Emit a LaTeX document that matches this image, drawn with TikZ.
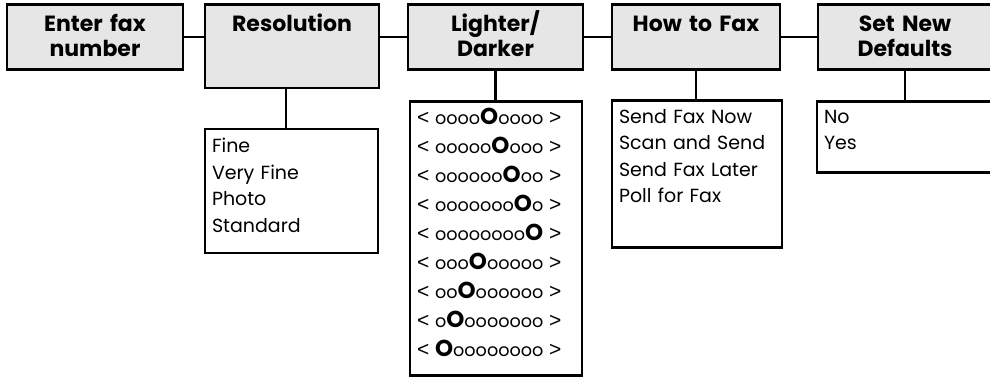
\documentclass[tikz,border=0pt]{standalone}
\usepackage{fontspec}
\setmainfont{Poppins}
\newfontfamily\signfont{Liberation Sans}
\newcommand{\lt}{{\signfont\fontsize{10.5}{10.5}\selectfont<}}
\newcommand{\gt}{{\signfont\fontsize{10.5}{10.5}\selectfont>}}
\newcommand{\bigO}{{\bfseries\fontsize{11.5}{11.5}\selectfont O}}
\usetikzlibrary{positioning}
\definecolor{headgray}{RGB}{230,230,230}

\begin{document}
\begin{tikzpicture}[
node distance=11pt,
head/.style={draw, fill=headgray, line width=1.4pt, outer sep=0pt, inner xsep=0pt, inner ysep=0pt, align=center, text height=13.75pt, text depth=18.75pt, font=\bfseries\fontsize{11}{12.5}\selectfont},
list/.style={draw, fill=white, line width=1.4pt, outer sep=0pt, inner xsep=3.5pt, inner ysep=0pt, align=left, font=\fontsize{9.5}{13.25}\selectfont},
link/.style={line width=1.4pt}
]
\useasboundingbox (0,0) rectangle (495pt,-189pt);
\clip (0,0) rectangle (495pt,-189pt);

% menu headers
\node[head, text width=88pt, anchor=base west] (enter) at (3.5pt,-16pt) {Enter fax\\number};
\node[head, text width=87pt, text depth=28pt, base right=11pt of enter] (res) {Resolution};
\node[head, text width=87.5pt, base right=14.5pt of res] (light) {Lighter/\\Darker};
\node[head, text width=84pt, base right=14.5pt of light] (howto) {How to Fax};
\node[head, text width=87pt, base right=19pt of howto] (setnew) {Set New\\Defaults};

% option lists
\node[list, text width=79.5pt, text height=12pt, text depth=50pt, below right=20.5pt and 0pt of res.south west] (fine) {Fine\\Very Fine\\Photo\\Standard};
\node[list, text width=79pt, text height=11.5pt, text depth=125.5pt, font=\fontsize{8.8}{14.5}\selectfont, below right=16pt and 1pt of light.south west] (dial) {%
\lt{} oooo\bigO{}oooo \gt\\
\lt{} ooooo\bigO{}ooo \gt\\
\lt{} oooooo\bigO{}oo \gt\\
\lt{} ooooooo\bigO{}o \gt\\
\lt{} oooooooo\bigO{} \gt\\
\lt{} ooo\bigO{}ooooo \gt\\
\lt{} oo\bigO{}oooooo \gt\\
\lt{} o\bigO{}ooooooo \gt\\
\lt{} \bigO{}oooooooo \gt};
\node[list, text width=78pt, text height=11.5pt, text depth=62pt, below right=15.5pt and 0pt of howto.south west] (send) {Send Fax Now\\Scan and Send\\Send Fax Later\\Poll for Fax};
\node[list, text width=83pt, text height=11pt, text depth=24.5pt, below right=16pt and -0.5pt of setnew.south west] (yesno) {No\\Yes};

\draw[link] (enter.east) -- (res.west |- enter.east);
\draw[link] (res.east |- light.west) -- (light.west);
\draw[link] (light.east) -- (howto.west |- light.east);
\draw[link] (howto.east) -- (setnew.west |- howto.east);
\draw[link] ([xshift=-3pt]res.south) -- ([xshift=-3pt]res.south |- fine.north);
\draw[link] (light.south) -- (light.south |- dial.north);
\draw[link] (howto.south) -- (howto.south |- send.north);
\draw[link] (setnew.south) -- (setnew.south |- yesno.north);
\end{tikzpicture}
\end{document}
